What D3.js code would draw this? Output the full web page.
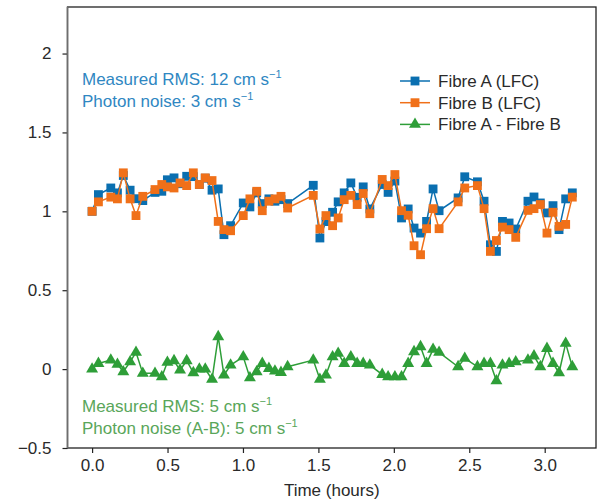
<!DOCTYPE html>
<html>
<head>
<meta charset="utf-8">
<script src="https://cdn.jsdelivr.net/npm/d3@7"></script>
<style>
  body { margin: 0; background: #fff; }
  svg text { font-family: "Liberation Sans", "Helvetica Neue", Arial, sans-serif; }
</style>
</head>
<body>
<svg id="chart" width="608" height="499"></svg>
<script>
// time in hours
const times = [0.000, 0.042, 0.124, 0.168, 0.207, 0.252, 0.291, 0.336, 0.417, 0.462,
  0.499, 0.543, 0.583, 0.627, 0.671, 0.711, 0.750, 0.795, 0.836, 0.874,
  0.918, 1.002, 1.046, 1.091, 1.128, 1.172, 1.212, 1.252, 1.296, 1.466,
  1.510, 1.550, 1.594, 1.631, 1.671, 1.715, 1.757, 1.797, 1.841, 1.923,
  1.962, 2.007, 2.051, 2.095, 2.134, 2.177, 2.217, 2.260, 2.300, 2.426,
  2.470, 2.554, 2.598, 2.640, 2.680, 2.720, 2.764, 2.808, 2.889, 2.929,
  2.971, 3.015, 3.055, 3.095, 3.139, 3.183];
const fibreA = [1.00, 1.106, 1.148, 1.117, 1.227, 1.134, 1.08, 1.068, 1.12, 1.127,
  1.20, 1.212, 1.175, 1.222, 1.22, 1.17, 1.21, 1.134, 1.142, 0.852,
  0.909, 1.053, 1.028, 1.117, 1.049, 1.079, 1.064, 1.074, 1.049, 1.165,
  0.831, 0.935, 0.994, 1.06, 1.117, 1.18, 1.089, 1.155, 1.015, 1.17,
  1.12, 1.192, 0.958, 1.015, 0.894, 0.862, 0.936, 1.142, 1.004, 1.085,
  1.219, 1.187, 1.064, 0.788, 0.746, 0.936, 0.926, 0.888, 1.064, 1.091,
  1.053, 0.99, 1.036, 0.884, 1.079, 1.117];
const fibreB = [1.00, 1.06, 1.09, 1.079, 1.244, 1.079, 0.973, 1.095, 1.138, 1.17,
  1.155, 1.148, 1.18, 1.163, 1.244, 1.17, 1.212, 1.195, 0.936, 0.884,
  0.877, 0.973, 1.079, 1.127, 1.004, 1.064, 1.079, 1.095, 1.021, 1.101,
  0.888, 0.973, 0.909, 0.958, 1.074, 1.101, 1.043, 1.113, 0.985, 1.202,
  1.163, 1.233, 1.004, 0.975, 0.782, 0.725, 0.89, 1.017, 0.89, 1.06,
  1.148, 1.163, 1.017, 0.746, 0.815, 0.90, 0.884, 0.835, 1.006, 1.017,
  1.043, 0.862, 0.994, 0.905, 0.917, 1.09];
const diffAB = [0.00, 0.036, 0.057, 0.03, -0.017, 0.046, 0.106, -0.027, -0.027, -0.049,
  0.043, 0.053, -0.006, 0.053, -0.023, 0.0, 0.0, -0.065, 0.205, -0.038,
  0.025, 0.078, -0.055, -0.017, 0.036, 0.004, -0.013, -0.021, 0.015, 0.057,
  -0.065, -0.038, 0.078, 0.10, 0.036, 0.078, 0.036, 0.036, 0.025, -0.034,
  -0.049, -0.049, -0.049, 0.036, 0.11, 0.142, 0.036, 0.125, 0.106, 0.015,
  0.068, 0.015, 0.036, 0.036, -0.074, 0.025, 0.036, 0.046, 0.057, 0.083,
  0.015, 0.131, 0.036, -0.023, 0.163, 0.015];

const seriesNames = ['Fibre A (LFC)', 'Fibre B (LFC)', 'Fibre A - Fibre B'];
const xTicks = [0, 0.5, 1, 1.5, 2, 2.5, 3];
const yTicks = [-0.5, 0, 0.5, 1, 1.5, 2];

const blue = '#0a6fb0', orange = '#f07019', green = '#2e9e38';
const margin = {left: 67.5, right: 12, top: 7, bottom: 51};
const W = 608, H = 499;

const svg = d3.select('#chart');
const x = d3.scaleLinear().domain([-0.163, 3.34]).range([margin.left, W - margin.right]);
const y = d3.scaleLinear().domain([-0.5, 2.295]).range([H - margin.bottom, margin.top]);

const fmtY = v => (Number.isInteger(v) ? String(v) : v.toFixed(1)).replace('-', '\u2212');

const xAxis = svg.append('g').attr('transform', `translate(0,${y.range()[0]})`)
    .call(d3.axisBottom(x).tickValues(xTicks).tickFormat(d => d.toFixed(1))
      .tickSize(5).tickPadding(6));
const yAxis = svg.append('g').attr('transform', `translate(${margin.left},0)`)
    .call(d3.axisLeft(y).tickValues(yTicks).tickFormat(fmtY).tickSize(5).tickPadding(11));
[xAxis, yAxis].forEach(g => {
  g.select('.domain').remove();
  g.selectAll('.tick line').attr('stroke', '#222').attr('stroke-width', 1.2);
  g.selectAll('.tick text').attr('fill', '#2a2a2a').style('font-size', '17px');
});

// frame
svg.append('rect').attr('x', x.range()[0]).attr('y', y.range()[1])
    .attr('width', x.range()[1] - x.range()[0]).attr('height', y.range()[0] - y.range()[1])
    .attr('fill', 'none').attr('stroke', '#222').attr('stroke-width', 1.3);
svg.append('line').attr('x1', x.range()[0]).attr('x2', x.range()[0])
    .attr('y1', y.range()[1]).attr('y2', y.range()[0])
    .attr('stroke', '#6e6e6e').attr('stroke-width', 1.6);

svg.append('text').attr('x', (x.range()[0] + x.range()[1]) / 2).attr('y', 496)
    .attr('text-anchor', 'middle').attr('fill', '#2a2a2a').style('font-size', '17px')
    .text('Time (hours)');

const line = d3.line().x(d => x(d[0])).y(d => y(d[1]));
const sq = d3.symbol().type(d3.symbolSquare).size(78);
const tri = d3.symbol().type(d3.symbolTriangle).size(62);

function drawSeries(vals, color, sym) {
  const pts = times.map((t, i) => [t, vals[i]]);
  svg.append('path').datum(pts).attr('d', line)
      .attr('fill', 'none').attr('stroke', color).attr('stroke-width', 1.5);
  svg.append('g').selectAll('path').data(pts).join('path')
      .attr('transform', d => `translate(${x(d[0])},${y(d[1])})`)
      .attr('d', sym).attr('fill', color);
}
drawSeries(fibreA, blue, sq);
drawSeries(fibreB, orange, sq);
drawSeries(diffAB, green, tri);

// legend
const legend = svg.append('g');
[[blue, sq], [orange, sq], [green, tri]].forEach(([c, s], i) => {
  const ly = 81 + i * 21.7;
  legend.append('line').attr('x1', 400).attr('x2', 430).attr('y1', ly).attr('y2', ly)
      .attr('stroke', c).attr('stroke-width', 1.5);
  legend.append('path').attr('d', s).attr('fill', c)
      .attr('transform', `translate(415,${ly})`);
  legend.append('text').attr('x', 438).attr('y', ly + 6).attr('fill', '#2a2a2a')
      .style('font-size', '17px').text(seriesNames[i]);
});

// annotations
function note(tx, ty, color, label) {
  const t = svg.append('text').attr('x', tx).attr('y', ty).attr('fill', color)
      .style('font-size', '17px');
  t.append('tspan').text(label + ' cm s');
  t.append('tspan').attr('dy', -7).style('font-size', '11px').text('\u22121');
}
note(82, 85, '#2f87c2', 'Measured RMS: 12');
note(82, 107, '#2f87c2', 'Photon noise: 3');
note(82, 412, '#59a65a', 'Measured RMS: 5');
note(82, 434, '#59a65a', 'Photon noise (A-B): 5');
</script>
</body>
</html>
